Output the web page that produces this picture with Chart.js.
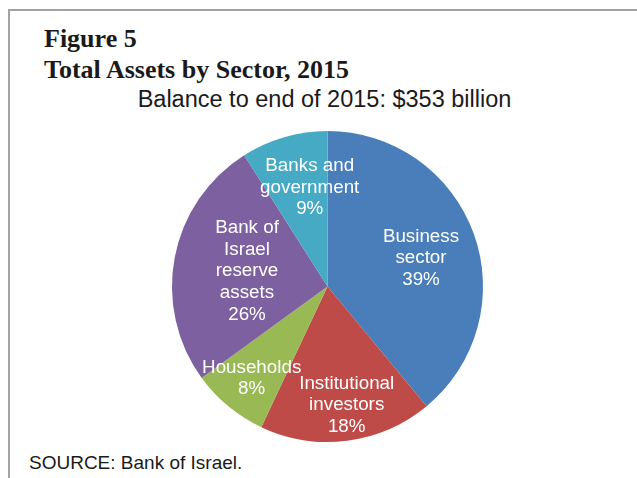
<!DOCTYPE html>
<html>
<head>
<meta charset="utf-8">
<script src="https://cdn.jsdelivr.net/npm/chart.js@4"></script>
<style>
  body { margin: 0; width: 637px; height: 478px; overflow: hidden; background: #fff; position: relative; }
  .frame { position: absolute; left: 8px; top: 9px; width: 640px; height: 480px;
           border-top: 2px solid #a3a3a3; border-left: 2px solid #a3a3a3; }
  .head { position: absolute; left: 44px; top: 23px; font: bold 26px "Liberation Serif", "Times New Roman", serif;
          line-height: 31px; color: #1a1a1a; }
  .sub { position: absolute; left: 0; width: 649px; top: 86px; text-align: center;
         font: 23.5px "Liberation Sans", Arial, sans-serif; line-height: 27px; color: #1a1a1a; }
  .src { position: absolute; left: 29px; top: 452px; font: 19px "Liberation Sans", Arial, sans-serif;
         line-height: 22px; color: #1a1a1a; }
  canvas { position: absolute; left: 0; top: 0; }
</style>
</head>
<body>
<div class="frame"></div>
<div class="head">Figure 5<br>Total Assets by Sector, 2015</div>
<div class="sub">Balance to end of 2015: $353 billion</div>
<div class="src">SOURCE: Bank of Israel.</div>
<canvas id="pieChart" width="637" height="478"></canvas>
<script>
// sectors, clockwise from 12 o'clock
const sectors = ['Business sector', 'Institutional investors', 'Households',
                 'Bank of Israel reserve assets', 'Banks and government'];
const shares = [39, 18, 8, 26, 9]; // percent of total assets
const labelLines = [
  ['Business', 'sector'],
  ['Institutional', 'investors'],
  ['Households'],
  ['Bank of', 'Israel', 'reserve', 'assets'],
  ['Banks and', 'government']
];
const sliceColors = ['#4a7ebb', '#be4b48', '#98b954', '#7d60a0', '#46aac5'];

// where each label sits inside its slice (fraction of radius, small angle nudge in degrees)
const labelRadius = [0.628, 0.772, 0.765, 0.527, 0.646];
const labelNudge = [3, -2, 0, 0, 6];

const sliceLabels = {
  id: 'sliceLabels',
  afterDatasetsDraw(chart) {
    const ctx = chart.ctx;
    const arcs = chart.getDatasetMeta(0).data;
    ctx.save();
    ctx.fillStyle = '#ffffff';
    ctx.font = '18.8px "Liberation Sans", Arial, sans-serif';
    ctx.textAlign = 'center';
    ctx.textBaseline = 'middle';
    arcs.forEach((arc, i) => {
      const p = arc.getProps(['x', 'y', 'startAngle', 'endAngle', 'outerRadius']);
      const mid = (p.startAngle + p.endAngle) / 2 + labelNudge[i] * Math.PI / 180;
      const r = p.outerRadius * labelRadius[i];
      const cx = p.x + Math.cos(mid) * r;
      const cy = p.y + Math.sin(mid) * r;
      const lines = labelLines[i].concat([shares[i] + '%']);
      const lh = 21.6;
      const top = cy - (lines.length - 1) * lh / 2;
      lines.forEach((t, k) => ctx.fillText(t, cx, top + k * lh));
    });
    ctx.restore();
  }
};

const config = {
  type: 'pie',
  data: {
    labels: sectors,
    datasets: [{
      data: shares,
      backgroundColor: sliceColors,
      borderWidth: 0
    }]
  },
  options: {
    responsive: false,
    animation: false,
    layout: { padding: { left: 172, right: 154, top: 131, bottom: 36 } },
    plugins: {
      legend: { display: false },
      title: { display: false },
      tooltip: { enabled: false }
    }
  },
  plugins: [sliceLabels]
};

window.onload = function() {
  var ctx = document.getElementById('pieChart').getContext('2d');
  window.pieChart = new Chart(ctx, config);
};
</script>
</body>
</html>
